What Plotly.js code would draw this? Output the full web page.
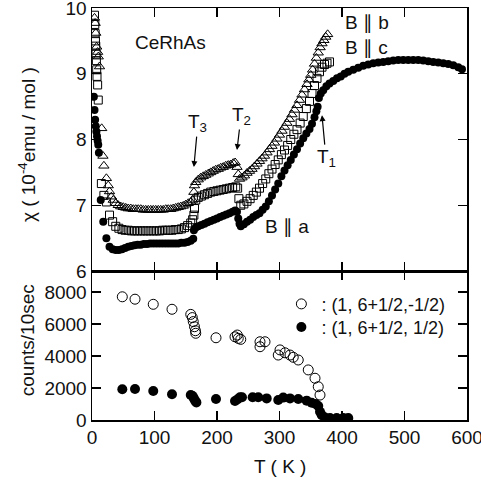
<!DOCTYPE html>
<html><head><meta charset="utf-8">
<script src="https://cdn.plot.ly/plotly-3.0.1.min.js"></script>
<style>html,body{margin:0;padding:0;background:#fff}#plot{width:481px;height:484px}</style>
</head><body><div id="plot"></div>
<script>
// ---- top panel: chi(T) for B || a (filled circles), B || b (open triangles), B || c (open squares)
var T_a = [3,4,5,6,7,8,9,10,11,14,18,23,28,33,38,43,48,53,58,
  63,68,73,78,83,88,93,98,103,108,113,118,123,128,133,138,143,148,153,158,162,
  163,166,170,175,180,185,190,195,200,205,210,215,220,225,229,232,234,236,
  238,243,248,253,258,263,268,273,278,283,288,293,298,303,308,313,318,323,328,333,338,343,348,352,356,359,361,
  363,366,370,375,380,386,392,398,404,410,418,426,434,442,450,458,466,474,482,490,498,506,514,522,530,538,546,554,562,570,578,586,592];
var chi_a = [8.65,8.45,8.3,8.2,8.12,8.05,7.98,7.92,7.8,7.08,6.75,6.5,6.37,6.33,6.32,6.32,6.33,6.35,6.37,
  6.38,6.39,6.40,6.40,6.41,6.41,6.42,6.42,6.42,6.42,6.42,6.42,6.42,6.42,6.42,6.42,6.43,6.43,6.44,6.46,6.49,
  6.62,6.66,6.68,6.70,6.72,6.74,6.76,6.78,6.80,6.82,6.84,6.86,6.88,6.90,6.92,6.90,6.80,6.72,
  6.68,6.71,6.75,6.78,6.82,6.85,6.88,6.93,6.98,7.06,7.15,7.24,7.33,7.44,7.53,7.61,7.69,7.77,7.85,7.94,8.02,8.09,8.16,8.24,8.34,8.43,8.50,
  8.63,8.70,8.75,8.81,8.85,8.89,8.93,8.96,9.00,9.03,9.06,9.09,9.12,9.14,9.16,9.17,9.18,9.19,9.20,9.21,9.21,9.21,9.21,9.21,9.20,9.19,9.18,9.17,9.16,9.15,9.13,9.10,9.07];

var T_b = [4,5,6,7.5,9,10,12,15.5,17.5,19,23,26,28,31,34,38,42,
  46,50,54,58,62,66,70,74,78,82,86,90,94,98,102,106,110,114,118,122,126,130,134,138,142,146,150,154,158,161,
  163,164,166,170,174,178,182,186,190,194,198,202,206,210,214,218,222,226,229,232,234,236,
  240,244,248,252,256,260,264,268,272,276,280,284,288,292,296,300,304,308,312,316,320,324,328,332,336,340,344,347,350,353,356,359,362,365,368,371,374,377];
var chi_b = [9.85,9.77,9.62,9.41,9.33,9.26,9.11,8.17,7.75,7.6,7.41,7.3,7.21,7.13,7.08,7.03,7.00,
  6.98,6.97,6.96,6.95,6.95,6.94,6.94,6.94,6.94,6.93,6.93,6.93,6.93,6.93,6.93,6.93,6.93,6.93,6.94,6.94,6.94,6.95,6.96,6.97,6.98,6.99,7.01,7.03,7.05,7.08,
  7.2,7.3,7.35,7.39,7.42,7.44,7.46,7.48,7.50,7.52,7.54,7.55,7.57,7.58,7.60,7.61,7.62,7.64,7.65,7.58,7.47,7.40,
  7.42,7.45,7.49,7.52,7.55,7.59,7.63,7.67,7.71,7.75,7.80,7.85,7.90,7.95,8.01,8.07,8.13,8.19,8.25,8.31,8.38,8.45,8.52,8.60,8.68,8.76,8.84,8.91,8.98,9.06,9.15,9.24,9.32,9.40,9.46,9.51,9.56,9.60];

var T_c = [4,4.5,5,5.5,6,6.5,7,7.5,8,9,10,15,19,23,28,33,38,43,48,53,58,
  63,68,73,78,83,88,93,98,103,108,113,118,123,128,133,138,143,148,153,158,161,163,164,
  166,170,175,180,185,190,195,200,205,210,215,220,225,230,233,235,238,
  243,248,253,258,263,268,273,278,283,288,293,298,303,308,313,318,323,328,333,338,343,348,352,356,360,364,368,372,376,380];
var chi_c = [9.89,9.75,9.61,9.5,9.42,9.3,9.2,9.06,8.96,8.83,8.6,7.33,7.15,7.05,6.85,6.75,6.68,6.65,6.63,6.62,6.62,
  6.61,6.61,6.61,6.61,6.61,6.61,6.61,6.61,6.61,6.61,6.62,6.62,6.62,6.62,6.63,6.63,6.64,6.66,6.69,6.73,6.78,6.85,6.95,
  7.08,7.12,7.14,7.16,7.18,7.20,7.21,7.22,7.23,7.24,7.25,7.26,7.27,7.28,7.26,7.10,7.00,
  7.02,7.06,7.10,7.15,7.20,7.26,7.33,7.40,7.48,7.55,7.62,7.69,7.77,7.84,7.91,8.00,8.08,8.15,8.25,8.35,8.47,8.58,8.70,8.82,8.93,9.03,9.10,9.14,9.16,9.18];

// ---- bottom panel: neutron counts
var T_open = [48.5,68.8,98,128,158,160.5,162,164,165.5,166,198.4,228.8,232.5,234,238,268.8,268.8,276.8,298,300.8,308.8,316.8,322,330,346,356.8,362,364.8];
var cnt_open = [7700,7550,7230,6920,6600,6400,6150,5830,5580,5420,5140,5200,5310,5100,5040,4890,4580,4890,4060,4380,4200,4060,3920,3750,3130,2610,2080,1560];
var T_fill = [48.5,68.8,98,128,158,161,163,165,167,198.4,228.8,233,236.8,240,257,266,279.5,298,306,316.8,330,343.5,351.5,358,362,364.8,367.5,372.8,380.8,391.5,402,410];
var cnt_fill = [1920,1940,1810,1610,1560,1500,1350,1200,1100,1310,1190,1300,1420,1420,1420,1420,1350,1250,1400,1350,1310,1210,1080,1000,880,520,310,150,120,120,120,120];

var xTicks = [0,100,200,300,400,500,600];
var yTopTicks = [6,7,8,9,10];
var yBotTicks = [0,2000,4000,6000,8000];
var legendNames = [': (1, 6+1/2,-1/2)', ': (1, 6+1/2, 1/2)'];

var FONT = 'Liberation Sans, Arial, Helvetica, sans-serif';
var FS = 19;
var traces = [
  {x:T_b, y:chi_b, xaxis:'x2', yaxis:'y2', mode:'markers', showlegend:false,
   marker:{symbol:'triangle-up-open', size:9, color:'#000', line:{width:1, color:'#000'}}},
  {x:T_c, y:chi_c, xaxis:'x2', yaxis:'y2', mode:'markers', showlegend:false,
   marker:{symbol:'square-open', size:8, color:'#000', line:{width:1, color:'#000'}}},
  {x:T_a, y:chi_a, xaxis:'x2', yaxis:'y2', mode:'markers', showlegend:false,
   marker:{symbol:'circle', size:8, color:'#000'}},
  {x:T_open, y:cnt_open, xaxis:'x', yaxis:'y', mode:'markers', name:legendNames[0], legend:'legend',
   marker:{symbol:'circle-open', size:10, color:'#000', line:{width:1, color:'#000'}}},
  {x:T_fill, y:cnt_fill, xaxis:'x', yaxis:'y', mode:'markers', name:legendNames[1], legend:'legend2',
   marker:{symbol:'circle', size:10, color:'#000'}}
];

var split = 149/412;
var axBase = {ticks:'inside', ticklen:9, tickwidth:1.3, tickcolor:'#000', mirror:'ticks', showline:true,
  linewidth:1.5, linecolor:'#000', showgrid:false, zeroline:false, ticklabeloverflow:'allow',
  tickfont:{size:FS, color:'#111', family:FONT}};
function ax(o){ return Object.assign({}, axBase, o); }
var legBase = {xanchor:'left', yanchor:'top', bgcolor:'rgba(0,0,0,0)', borderwidth:0,
  font:{size:18, family:FONT, color:'#111'}};

var layout = {
  width:481, height:484, margin:{l:92, r:14, t:8, b:64},
  paper_bgcolor:'#fff', plot_bgcolor:'#fff', font:{family:FONT, size:FS, color:'#111'},
  xaxis: ax({domain:[0,1], anchor:'y', range:[0,600], tickvals:xTicks}),
  xaxis2: ax({domain:[0,1], anchor:'y2', range:[0,600], tickvals:xTicks, showticklabels:false, matches:'x'}),
  yaxis: ax({domain:[0,split], anchor:'x', range:[0,9312], tickvals:yBotTicks}),
  yaxis2: ax({domain:[split,1], anchor:'x2', range:[6,10], tickvals:yTopTicks}),
  showlegend:true,
  legend: Object.assign({x:0.505, y:0.326}, legBase),
  legend2: Object.assign({x:0.505, y:0.270}, legBase),
  annotations:[
    {xref:'paper', yref:'paper', x:0.5, y:-0.114, text:'T ( K )', showarrow:false, xanchor:'center', yanchor:'middle'},
    {xref:'paper', yref:'paper', x:-0.173, y:0.6675, text:'χ ( 10<sup>-4</sup>emu / mol )', textangle:-90, showarrow:false, xanchor:'center', yanchor:'middle'},
    {xref:'paper', yref:'paper', x:-0.173, y:0.194, text:'counts/10sec', textangle:-90, showarrow:false, xanchor:'center', yanchor:'middle'},
    {xref:'x2', yref:'y2', x:66, y:9.47, text:'CeRhAs', showarrow:false, xanchor:'left'},
    {xref:'x2', yref:'y2', x:401, y:9.77, text:'B ∥ b', showarrow:false, xanchor:'left'},
    {xref:'x2', yref:'y2', x:401, y:9.39, text:'B ∥ c', showarrow:false, xanchor:'left'},
    {xref:'x2', yref:'y2', x:274, y:6.67, text:'B ∥ a', showarrow:false, xanchor:'left'},
    {xref:'x2', yref:'y2', x:163, y:7.58, ax:4, ay:-44, text:'T<sub>3</sub>', showarrow:true,
     arrowhead:2, arrowsize:1, arrowwidth:1.2, arrowcolor:'#000'},
    {xref:'x2', yref:'y2', x:232, y:7.84, ax:4, ay:-34, text:'T<sub>2</sub>', showarrow:true,
     arrowhead:2, arrowsize:1, arrowwidth:1.2, arrowcolor:'#000'},
    {xref:'x2', yref:'y2', x:368, y:8.37, ax:4, ay:43, text:'T<sub>1</sub>', showarrow:true,
     arrowhead:2, arrowsize:1, arrowwidth:1.2, arrowcolor:'#000'}
  ]
};
Plotly.newPlot('plot', traces, layout, {staticPlot:true, displayModeBar:false});
</script></body></html>
